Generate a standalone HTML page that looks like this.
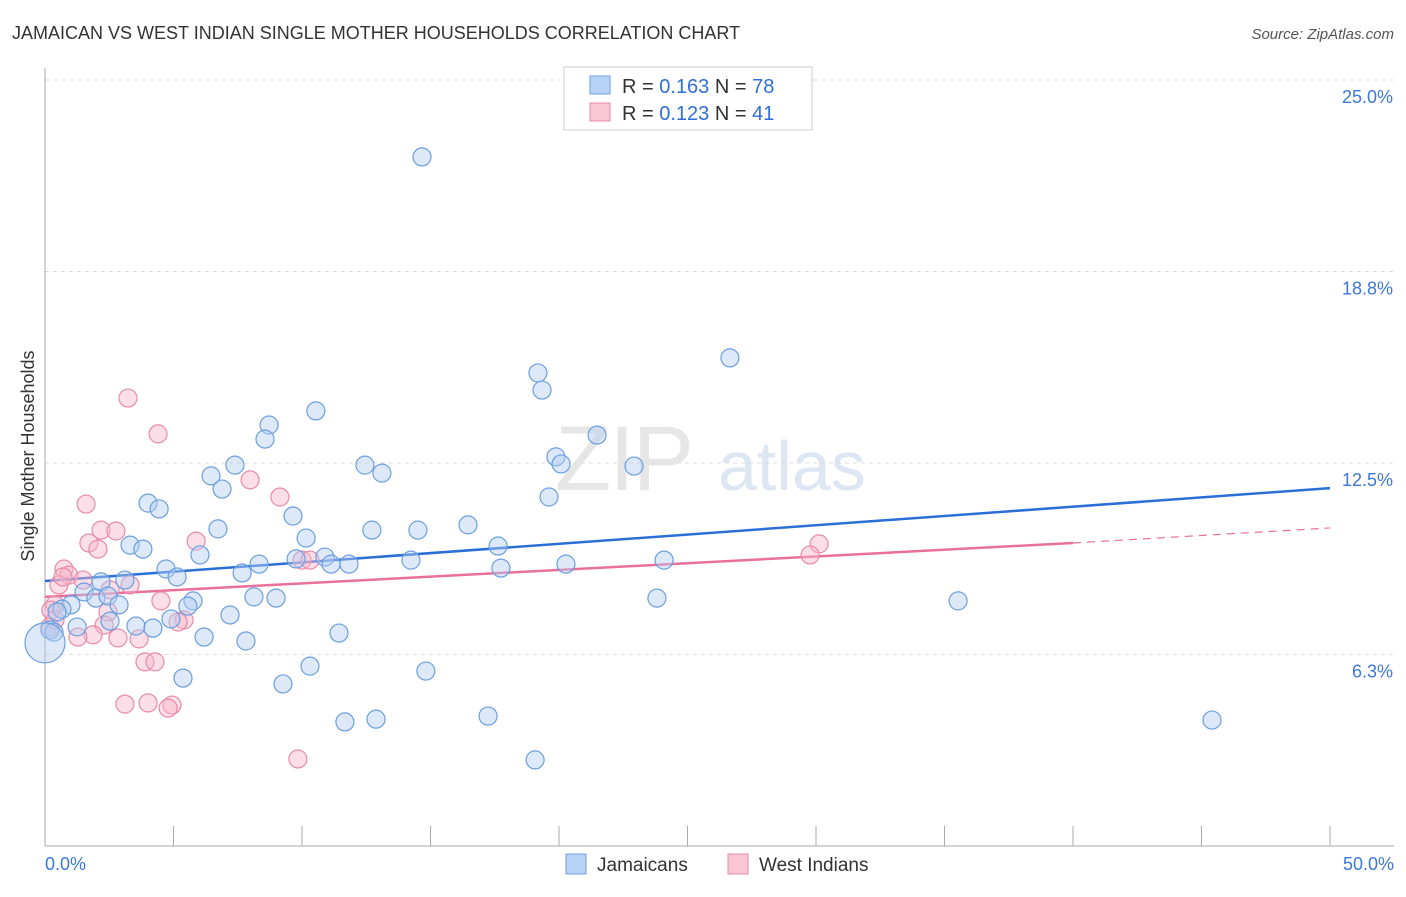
<!DOCTYPE html>
<html><head><meta charset="utf-8"><style>
body{margin:0;background:#fff;font-family:"Liberation Sans",sans-serif}
svg text{font-family:"Liberation Sans",sans-serif}
</style></head><body>
<svg width="1406" height="892" id="chart">
<text x="12" y="39" font-size="18" fill="#333">JAMAICAN VS WEST INDIAN SINGLE MOTHER HOUSEHOLDS CORRELATION CHART</text>
<text x="1394" y="39" font-size="15" fill="#555" text-anchor="end" font-style="italic">Source: ZipAtlas.com</text>
<g><text x="555" y="490" font-size="92" fill="#e6e6e6" font-family="Liberation Serif" letter-spacing="-2">ZIP</text><text x="718" y="490" font-size="70" fill="#dde6f3">atlas</text></g>
<text transform="translate(34,456) rotate(-90)" font-size="18" fill="#333" text-anchor="middle">Single Mother Households</text>
<g id="grid"></g><g id="axes"></g><g id="lines"></g><g id="pts"></g>
<g>
<rect x="564" y="67" width="248" height="63" fill="#fff" stroke="#ccc"/>
<rect x="590" y="76" width="20" height="18" fill="#b8d3f5" stroke="#6a9fe0"/>
<text x="622" y="93" font-size="20" fill="#333">R = <tspan fill="#2f6fd6">0.163</tspan>   N = <tspan fill="#2f6fd6">78</tspan></text>
<rect x="590" y="103" width="20" height="18" fill="#f9c6d5" stroke="#e88aa8"/>
<text x="622" y="120" font-size="20" fill="#333">R = <tspan fill="#2f6fd6">0.123</tspan>   N = <tspan fill="#2f6fd6">41</tspan></text>
</g>
<g>
<rect x="566" y="854" width="20" height="20" fill="#b8d3f5" stroke="#6a9fe0"/>
<text x="597" y="871" font-size="19" fill="#333">Jamaicans</text>
<rect x="728" y="854" width="20" height="20" fill="#f9c6d5" stroke="#e88aa8"/>
<text x="759" y="871" font-size="19" fill="#333">West Indians</text>
</g>
</svg>
<script>
const yTicks=[25,18.75,12.5,6.25];
const yTickLabels=["25.0%","18.8%","12.5%","6.3%"];
const xTickVals=[0,5,10,15,20,25,30,35,40,45,50];
const blueX=[14.67,26.65,19.18,19.34,10.54,8.72,8.56,21.48,19.88,20.08,12.45,22.92,7.39,13.11,6.46,6.89,19.61,4.01,4.44,9.65,16.46,6.73,12.72,14.51,10.16,3.31,3.81,17.63,6.03,9.77,10.89,14.24,24.09,8.33,11.13,11.83,20.27,17.74,4.71,7.67,5.14,3.11,2.18,1.52,1.98,2.45,8.13,8.99,23.81,35.53,5.76,5.56,2.88,1.01,0.66,0.47,7.20,4.90,2.53,3.54,4.20,1.25,0.19,0.35,11.44,6.19,7.82,10.31,14.82,5.37,9.26,17.24,12.88,11.67,45.41,19.07];
const blueY=[22.49,15.93,15.44,14.88,14.20,13.74,13.28,13.41,12.70,12.47,12.43,12.40,12.43,12.17,12.08,11.65,11.39,11.19,11.00,10.77,10.48,10.35,10.31,10.31,10.05,9.82,9.69,9.79,9.50,9.37,9.43,9.33,9.33,9.20,9.20,9.20,9.20,9.07,9.04,8.91,8.78,8.68,8.62,8.29,8.09,8.16,8.13,8.09,8.09,8.00,8.00,7.83,7.87,7.87,7.73,7.64,7.54,7.41,7.34,7.18,7.11,7.15,7.05,6.98,6.95,6.82,6.69,5.87,5.71,5.48,5.29,4.24,4.14,4.05,4.11,2.81];
const bigX=[0.0], bigY=[6.63];
const pinkX=[3.23,4.40,7.98,9.14,1.60,2.18,2.76,1.71,5.88,2.06,30.12,29.77,10.00,10.31,0.74,0.93,1.48,3.31,0.54,2.53,4.51,0.39,0.23,2.45,5.41,5.18,2.30,0.19,1.87,1.28,2.84,3.66,3.89,4.28,3.11,4.01,4.94,4.79,9.84,0.70,0.39];
const pinkY=[14.62,13.45,11.95,11.39,11.16,10.31,10.28,9.89,9.95,9.69,9.86,9.50,9.33,9.33,9.04,8.84,8.68,8.52,8.52,8.36,8.00,7.87,7.70,7.64,7.38,7.31,7.21,7.15,6.89,6.82,6.79,6.76,6.01,6.01,4.63,4.67,4.60,4.50,2.84,8.78,7.38];
const blueTrend=[[0,8.65],[50,11.68]];
const pinkTrend=[[0,8.13],[40,9.89]];
const pinkTrendExt=[[40,9.89],[50,10.38]];
const NS="http://www.w3.org/2000/svg";
const sx=v=>45+v*25.7, sy=v=>846-v*30.64;
function mk(tag,attrs,parent){const e=document.createElementNS(NS,tag);for(const k in attrs)e.setAttribute(k,attrs[k]);document.getElementById(parent).appendChild(e);return e;}
yTicks.forEach((t,i)=>{
 const l=mk('line',{x1:45,x2:1394,y1:sy(t),y2:sy(t),stroke:'#ddd','stroke-dasharray':'4,4'},'grid');
 
 
 const tx=mk('text',{x:1393,y:sy(t)+23,'font-size':18,fill:'#3b78d8','text-anchor':'end'},'grid');
 tx.textContent=yTickLabels[i];
 
 
});
let ax=mk('line',{x1:45,x2:45,y1:68,y2:846,stroke:'#aaa'},'axes');


ax=mk('line',{x1:45,x2:1394,y1:846,y2:846,stroke:'#aaa'},'axes');


xTickVals.forEach(v=>{const t=mk('line',{x1:sx(v),x2:sx(v),y1:826,y2:846,stroke:'#aaa'},'axes');
 
 });
let xl=mk('text',{x:45,y:870,'font-size':18,fill:'#3b78d8'},'axes');xl.textContent='0.0%';


xl=mk('text',{x:1394,y:870,'font-size':18,fill:'#3b78d8','text-anchor':'end'},'axes');xl.textContent='50.0%';


function dots(X,Y,fill,stroke,r,name){X.forEach((x,i)=>{const c=mk('circle',{cx:sx(x),cy:sy(Y[i]),r:r,fill:fill,'fill-opacity':0.45,stroke:stroke,'stroke-width':1.2},'pts');
 
 });}
dots(pinkX,pinkY,'#f7b6ca','#e88aa8',9,'west-indian-point');
dots(blueX,blueY,'#b3cdf2','#6a9fe0',9,'jamaican-point');
dots(bigX,bigY,'#b3cdf2','#6a9fe0',20,'jamaican-point');
function line(p,color,w,dash,name){const l=mk('line',{x1:sx(p[0][0]),y1:sy(p[0][1]),x2:sx(p[1][0]),y2:sy(p[1][1]),stroke:color,'stroke-width':w},'lines');if(dash)l.setAttribute('stroke-dasharray',dash);
 
 }
line(blueTrend,'#2a6fd6',2.5,null,'jamaican-trendline');
line(pinkTrend,'#e8709a',2.5,null,'west-indian-trendline');
line(pinkTrendExt,'#e8709a',1.2,'8,6','west-indian-trendline-extension');
</script>
</body></html>
